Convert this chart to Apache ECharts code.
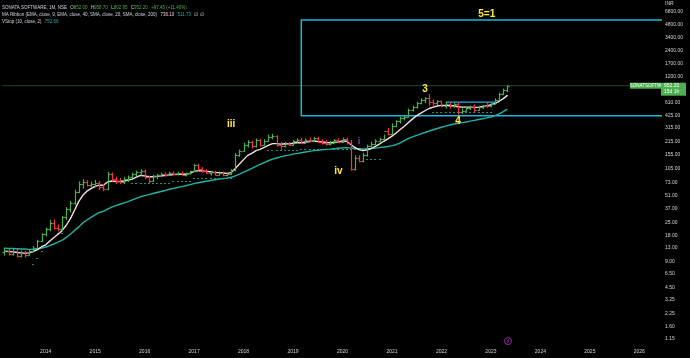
<!DOCTYPE html>
<html><head><meta charset="utf-8">
<script src="https://cdn.jsdelivr.net/npm/echarts@6/dist/echarts.min.js"></script>
<style>html,body{margin:0;padding:0;background:#000;}#c{width:690px;height:358px;}</style>
</head><body><div id="c"></div>
<script>
// ---- categories: monthly, Mar 2013 .. Jun 2026 (axis extends into the future)
const categories = [];
for (let y = 2013, m = 3; ; m++) {
  if (m === 13) { m = 1; y++; }
  if (y === 2026 && m === 7) break;
  categories.push(y + '-' + String(m).padStart(2, '0'));
}
// ---- monthly OHLC, Mar 2013 .. May 2023
const opens  = [11.5,12,11,12,10.5,11.5,10.8,12,13,15.5, 18.5,21,25,22,21,29,36,42,57,70,75,68, 70,72,64,62,92,80,76,74,80,85,92,96, 100,84,76,86,88,92,90,95,91,94,90,93, 98,115,104,98,95,97,90,95,89,92,101,150, 170,195,215,190,225,200,220,245,250,200,190,205, 200,220,225,210,228,222,235,215,210,205,210,225, 215,230,210,105,140,130,150,190,205,220,230,290, 265,330,370,400,420,500,540,600,650,680,620,600, 630,560,580,560,590,480,490,530,540,500,540,560, 550,590,660,760,852];
const highs  = [13,12.5,12.5,12.5,12,12,12.5,13.5,16,19, 22,27,27.5,24,30,38,45,60,75,80,78,75, 78,76,70,97,95,85,82,85,88,95,100,104, 102,88,90,92,95,96,97,98,97,98,95,100, 120,120,110,104,100,100,98,98,95,104,160,175, 210,225,220,235,232,230,260,265,255,215,215,215, 225,235,240,235,240,245,245,230,225,220,230,235, 240,240,225,150,150,160,200,215,230,240,260,310, 350,380,420,430,520,560,620,680,700,760,660,650, 640,610,600,600,610,520,540,560,580,560,570,620, 600,680,790,880,958.7];
const lows   = [10.5,10.5,10.5,10,10,10,10.5,11.5,12.5,15, 17.5,20,21,20,20,27,33,40,55,62,66,64, 64,60,58,60,75,70,70,70,74,82,86,88, 80,72,74,80,84,86,88,89,88,88,86,90, 96,100,95,92,88,88,88,86,86,90,98,145, 165,185,180,185,190,195,215,230,190,175,185,195, 195,210,205,205,215,215,210,200,195,195,205,210, 210,200,100,100,125,125,145,180,195,210,225,255, 260,320,350,380,410,480,520,580,600,560,560,570, 540,520,520,530,440,450,480,500,470,490,510,530, 540,580,640,740,802.95];
const closes = [12,11,12,10.5,11.5,10.8,12,13,15.5,18.5, 21,25,22,21,29,36,42,57,70,75,68,70, 72,64,62,92,80,76,74,80,85,92,96,100, 84,76,86,88,92,90,95,91,94,90,93,98, 115,104,98,95,97,90,95,89,92,101,150,170, 195,215,190,225,200,220,245,250,200,190,205,200, 220,225,210,228,222,235,215,210,205,210,225,215, 230,210,105,140,130,150,190,205,220,230,290,265, 330,370,400,420,500,540,600,650,680,620,600,630, 560,580,560,590,480,490,530,540,500,540,560,550, 590,660,760,852,952.2];
// ---- MA Ribbon lines
const ema9  = [11.8,11.7,11.6,11.4,11.3,11.2,11.3,11.7,12.3,13.3, 14,15.5,17,18.5,20.5,23.5,28,35,44,52,58,62, 66,68,68,74,76,75,75,76,78,80,84,88, 87,85,85,86,87,88,89,90,91,91,91,93, 98,100,99,98,97,95,95,94,93,95,106,119, 134,150,158,170,176,185,195,205,205,202,204,203, 207,211,210,214,216,220,217,214,211,210,213,214, 220,218,200,185,175,170,174,180,190,203,218,232, 250,272,298,325,358,395,430,460,490,520,540,555, 565,565,560,560,545,540,540,540,535,540,548,555, 575,595,630,675,736.1];
const ema40 = [12.8,12.7,12.7,12.6,12.5,12.5,12.4,12.4,12.5,12.8, 13.2,13.7,14.3,15,15.8,17,18.5,20.5,22.5,25,27,29, 31,33,34,36,38,39.5,41,42.5,44,46,48,50, 51.5,53,54.5,56,57.5,59,61,62.5,64,65.5,67,69, 71,72.5,74,75.5,77,78.5,80,81,82,84,87,91, 96,101,106,112,118,124,130,136,140,144,148,151, 155,158,161,164,167,170,172,174,176,177,179,181, 183,184,182,180,179,178,179,180,182,184,187,190, 194,199,209,222,235,245,255,265,275,286,296,306, 316,326,336,345,352,358,364,372,380,388,396,405, 415,430,450,478,511.73];
// ---- VStop (10, close, 2) dots; trend 1 = up (teal), -1 = down (red), null = not visible
const vstop = [null,null,null,null,null,null,null,8.5,9.9,11.9, null,null,null,19.2,19.2,null,null,null,null,null,null,null, null,null,null,null,null,null,null,null,null,72,72,72, 72,72,72,72,72,72,72,76,76,76,76,76, 82,82,82,82,82,82,82,82,82,82,null,null, null,null,null,null,null,null,173,173,173,173,173,173, 173,173,178,178,178,178,178,178,178,178,178,178, 178,178,176,176,176,176,135,135,135,135,null,null, null,null,null,null,null,null,null,null,null,null,480,480, 480,480,480,480,480,480,480,480,480,480,480,480, 480,null,null,null,752.66];
const vstopTrend = [null,null,null,null,null,null,null,1,1,1, null,null,null,1,1,null,null,null,null,null,null,null, null,null,null,null,null,null,null,null,null,1,1,1, 1,1,1,1,1,1,1,1,1,1,1,1, 1,1,1,1,1,1,1,1,1,1,null,null, null,null,null,null,null,null,1,1,1,1,1,1, 1,1,1,1,1,1,1,1,1,1,1,1, 1,1,-1,-1,-1,-1,1,1,1,1,null,null, null,null,null,null,null,null,null,null,null,null,1,1, 1,1,1,1,1,1,1,1,1,1,1,1, 1,null,null,null,1];
// ---- y-axis tick labels (log scale)
const yTicks = [1.15,1.6,2.25,3.25,4.5,6.5,9,13,18,25,37,51,73,105,155,215,315,425,610,1200,1700,2400,3400,4800,6800];
// ---- annotations (data coordinates)
const boxStart = '2019-03', boxTop = 5450, boxBottom = 430;
const shortLine = ['2022-02', '2023-02', 615];
const lastPrice = 952.2;
const waveLabels = [
  {name:'5=1', x:'2022-12', y:6400, color:'#ffeb3b', size:10},
  {name:'3',   x:'2021-09', y:873,  color:'#ffeb3b', size:10},
  {name:'4',   x:'2022-05', y:373,  color:'#ffeb3b', size:10},
  {name:'iii', x:'2017-10', y:345,  color:'#ffeb3b', size:10},
  {name:'iv',  x:'2019-12', y:99,   color:'#ffeb3b', size:10},
  {name:'i',   x:'2020-05', y:214,  color:'#8e44ad', size:9}
];

const GREEN = '#4caf50', RED = '#f23645', CYAN = '#1fb5d6';
const ohlc = opens.map((o, i) => [i, o, highs[i], lows[i], closes[i]]);
const vstopData = vstop.map((v, i) => v == null ? null : [i, v, vstopTrend[i]]).filter(d => d);

const chart = echarts.init(document.getElementById('c'), null, {renderer:'canvas'});
const FONT = 'Liberation Sans, Arial, sans-serif';
const LF = 4.5;

chart.setOption({
  backgroundColor: '#000000',
  animation: false,
  grid: {left: 2.4, right: 28, top: 0, bottom: 14},
  xAxis: {
    type: 'category', data: categories, boundaryGap: true,
    axisLine: {show: false}, axisTick: {show: false}, splitLine: {show: false},
    axisLabel: {
      interval: (idx, val) => val.slice(5) === '01',
      formatter: v => v.slice(0, 4),
      color: '#d1d4dc', fontSize: 5, margin: 5, fontFamily: FONT
    }
  },
  yAxis: {
    type: 'log', logBase: 10, min: 1.007, max: 9247, position: 'right',
    axisLine: {show: false}, axisTick: {show: false}, splitLine: {show: false},
    axisLabel: {
      customValues: yTicks, formatter: v => Number(v).toFixed(2),
      color: '#d1d4dc', fontSize: 5, margin: 3, align: 'left', fontFamily: FONT
    }
  },
  series: [
    { // annotation box & lines
      type: 'custom', silent: true, z: 1, data: [[0]],
      renderItem: (params, api) => {
        const cs = params.coordSys;
        const right = cs.x + cs.width;
        const i0 = categories.indexOf(boxStart);
        const pTop = api.coord([i0, boxTop]);
        const pBot = api.coord([i0, boxBottom]);
        const a = api.coord([categories.indexOf(shortLine[0]), shortLine[2]]);
        const b = api.coord([categories.indexOf(shortLine[1]), shortLine[2]]);
        const pl = api.coord([0, lastPrice]);
        return {type: 'group', children: [
          {type: 'line', shape: {x1: cs.x, y1: pl[1], x2: right, y2: pl[1]}, style: {stroke: '#1d4a24', lineWidth: 1}},
          {type: 'polyline', shape: {points: [[right, pTop[1]], [pTop[0], pTop[1]], [pBot[0], pBot[1]], [right, pBot[1]]]},
           style: {stroke: CYAN, lineWidth: 1.5, fill: null}},
          {type: 'line', shape: {x1: a[0], y1: a[1], x2: b[0], y2: b[1]}, style: {stroke: CYAN, lineWidth: 1.2}}
        ]};
      }
    },
    { // VStop dots
      type: 'custom', silent: true, z: 2, data: vstopData,
      renderItem: (params, api) => {
        const p = api.coord([api.value(0), api.value(1)]);
        return {type: 'rect', shape: {x: Math.round(p[0]) - 1, y: Math.round(p[1]), width: 2, height: 1},
          style: {fill: api.value(2) > 0 ? '#1d8f80' : '#b02a3a'}};
      }
    },
    {
      type: 'line', data: ema40, showSymbol: false, smooth: false, z: 3,
      lineStyle: {color: '#20b2a6', width: 1.4}
    },
    {
      type: 'line', data: ema9, showSymbol: false, smooth: false, z: 3,
      lineStyle: {color: '#f6dfe5', width: 1.4}
    },
    { // OHLC bars
      type: 'custom', z: 4, data: ohlc,
      encode: {x: 0, y: [1, 2, 3, 4]},
      renderItem: (params, api) => {
        const i = api.value(0);
        const o = api.coord([i, api.value(1)]);
        const h = api.coord([i, api.value(2)]);
        const l = api.coord([i, api.value(3)]);
        const c = api.coord([i, api.value(4)]);
        const color = api.value(4) >= api.value(1) ? GREEN : RED;
        const x = Math.round(h[0]) + 0.5;
        const st = {stroke: color, lineWidth: 1.2};
        return {type: 'group', children: [
          {type: 'line', shape: {x1: x, y1: h[1], x2: x, y2: l[1]}, style: st},
          {type: 'line', shape: {x1: x - 2, y1: Math.round(o[1]) + 0.5, x2: x, y2: Math.round(o[1]) + 0.5}, style: st},
          {type: 'line', shape: {x1: x, y1: Math.round(c[1]) + 0.5, x2: x + 2, y2: Math.round(c[1]) + 0.5}, style: st}
        ]};
      }
    },
    { // wave labels
      type: 'scatter', symbolSize: 0, z: 5, silent: true,
      itemStyle: {opacity: 1},
      data: waveLabels.map(w => ({
        name: w.name, value: [categories.indexOf(w.x), w.y],
        label: {show: true, position: 'inside', formatter: '{b}', color: w.color, fontSize: w.size, fontWeight: 'bold', fontFamily: FONT, opacity: 1}
      }))
    },
    { // last price boxes on the right
      type: 'custom', silent: true, z: 6, data: [[0]], clip: false,
      renderItem: (params, api) => {
        const cs = params.coordSys;
        const right = cs.x + cs.width;
        const y = api.coord([0, lastPrice])[1];
        return {type: 'group', children: [
          {type: 'rect', shape: {x: right - 32, y: y - 3, width: 31, height: 6}, style: {fill: GREEN}},
          {type: 'text', style: {x: right - 16.5, y: y, text: 'SONATSOFTW', fill: '#ffffff', font: '4.5px ' + FONT, align: 'center', verticalAlign: 'middle'}},
          {type: 'rect', shape: {x: right - 1, y: y - 3, width: 25, height: 13}, style: {fill: GREEN}},
          {type: 'text', style: {x: right + 2, y: y + 0.2, text: lastPrice.toFixed(2), fill: '#ffffff', font: '5px ' + FONT, align: 'left', verticalAlign: 'middle'}},
          {type: 'text', style: {x: right + 2, y: y + 6.2, text: '15d 1h', fill: '#ffffff', font: '5px ' + FONT, align: 'left', verticalAlign: 'middle'}}
        ]};
      }
    }
  ],
  graphic: [
    {type: 'text', left: 2, top: 1.8, style: {
      text: '{w|SONATA SOFTWARE, 1M, NSE} {w|O}{g|852.00} {w|H}{g|958.70} {w|L}{g|802.95} {w|C}{g|952.20} {g|+97.45 (+11.40%)}',
      rich: {w: {fill: '#d1d4dc', fontSize: LF, fontFamily: FONT}, g: {fill: GREEN, fontSize: LF, fontFamily: FONT}}
    }},
    {type: 'text', left: 2, top: 8.8, style: {
      text: '{w|MA Ribbon (EMA, close, 9, EMA, close, 40, SMA, close, 20, SMA, close, 200)} {p|736.10} {t|511.73} {w|∅ ∅}',
      rich: {w: {fill: '#d1d4dc', fontSize: LF, fontFamily: FONT}, p: {fill: '#f3c6cf', fontSize: LF, fontFamily: FONT}, t: {fill: '#20b2a6', fontSize: LF, fontFamily: FONT}}
    }},
    {type: 'text', left: 2, top: 15.3, style: {
      text: '{w|VStop (10, close, 2)} {t|752.66}',
      rich: {w: {fill: '#d1d4dc', fontSize: LF, fontFamily: FONT}, t: {fill: '#20b2a6', fontSize: LF, fontFamily: FONT}}
    }},
    {type: 'text', left: 665, top: 1, style: {text: 'INR', fill: '#d1d4dc', font: '5px ' + FONT}},
    {type: 'circle', shape: {cx: 508, cy: 341, r: 3.5}, style: {fill: 'none', stroke: '#9c27b0', lineWidth: 1}},
    {type: 'polyline', shape: {points: [[509, 338.8], [507.2, 341.3], [508.8, 341], [507, 343.3]]}, style: {fill: 'none', stroke: '#9c27b0', lineWidth: 0.8}}
  ]
});
</script>
</body></html>
